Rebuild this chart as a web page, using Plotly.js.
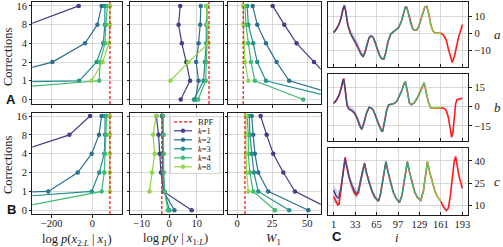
<!DOCTYPE html>
<html><head><meta charset="utf-8">
<script src="https://cdn.plot.ly/plotly-3.0.1.min.js"></script>
<style>html,body{margin:0;padding:0;background:#fff}#chart{width:503px;height:247px}</style>
</head><body><div id="chart"></div>
<script>
// ---------------- DATA ----------------
const correctionTicks = ['0', '1', '2', '4', '8', '16'];
const kNames = ['k=1', 'k=2', 'k=3', 'k=4', 'k=8'];
const kColors = ['#423f85', '#2d6f8e', '#22908d', '#3dbb74', '#8fd744'];

// values per k (rows) at corrections 0,1,2,4,8,16 (columns)
const rowA_logpx = [
  [-3000, -2000, -1200, -700, -315, -67],
  [-2500, -550, -197, -36, 25, 46],
  [-5000, -65, 21, 54, 62, 62],
  [-1150, 34, 38, 62, 67, 74],
  [null, -3, 51, 82, 87, 87]
];
const rowA_logpy = [
  [4.2, 7.6, 6.2, 4.6, 3.4, 4.0],
  [9.5, 10.7, 9.8, 10.7, 11.3, 11.5],
  [9.0, 12.5, 13.0, 13.5, 13.5, 13.8],
  [10.5, 13.3, 13.5, 13.8, 13.8, 13.5],
  [null, 0.4, 7.0, 14.3, 13.9, 13.7]
];
const rowA_w1 = [
  [80, 67.6, 54.8, 42.4, 33.6, 25.3],
  [82.6, 37.1, 28.1, 20.5, 14.3, 11.0],
  [75, 20.5, 14.3, 11.4, 7.9, 7.1],
  [47.1, 12.6, 9.8, 7.9, 6.2, 5.5],
  [null, 7.9, 5.5, 4.8, 4.3, 4.3]
];
const rowB_logpx = [
  [-1500, -1000, -700, -394, -113, -11],
  [-3000, -217, -72, -3, 33, 46],
  [-1270, -3, 34, 59, 62.6, 62.6],
  [-432, 46, 59, 62.6, 69, 71],
  [null, 87, 87, 87, 87, 87]
];
const rowB_logpy = [
  [8.2, -2.1, -3.0, -3.5, -3.9, -4.7],
  [1.9, -2.1, -2.4, -2.4, -2.4, -2.7],
  [0.0, -1.7, -2.2, -2.2, -2.3, -2.4],
  [-0.5, -1.7, -2.0, -2.0, -2.0, -2.2],
  [null, -7.2, -6.3, -5.3, -5.9, -4.8]
];
const rowB_w1 = [
  [68, 41.2, 32.9, 25.7, 21.0, 16.7],
  [50.7, 22.1, 15.0, 12.6, 11.4, 10.3],
  [37.1, 15.0, 11.9, 10.3, 9.0, 8.6],
  [26.9, 11.4, 9.0, 7.9, 7.9, 7.1],
  [null, 7.9, 6.7, 6.2, 6.2, 6.2]
];
// BPF reference values [log p(x2:L|x1), log p(y|x1:L), W1]
const bpfRowA = [87, 14.5, 4.3];
const bpfRowB = [87, -2.7, 5.5];

// Panel C: time index and series
const iA = [1,5,9,12,15,17,19,22,26,30,34,38,42,45,48,51,54,57,60,63,66,70,73,76,79,82,86,90,94,98,102,105,108,110,113,116,119,122,125,128,131,134,137,140,143,146,149,152,156,161,165,169,172,175,178,181,184,187,190,193];
const truthA = [0.5,2.5,5.5,9,14.5,16.5,13,5,0,-3,-5.5,-9,-12.5,-13.7,-11,-6,-2.5,-1.5,-2.5,-5.5,-9.5,-13.5,-15,-15.2,-11,-5,-0.5,1,2,3.5,7,11.5,15.5,15.5,11,5.5,2.5,1.8,2,4,7.5,12,15.5,16,11.5,5,1.5,0.3,0,0,-1,-4,-9,-14,-17.3,-14,-8,-3,1,5];
const bandA_i = [22,26,30,34,38,42,45,48,51,54];
const bandA_lo = [4,-1,-4,-6.5,-10,-13,-14.2,-11.5,-6.5,-3];
const bandA_hi = [7,2,0,-2.5,-6,-10,-11.5,-9,-4.5,-1.5];

const iB = [1,5,9,12,15,16,18,21,24,28,32,36,40,43,46,50,54,57,60,64,68,72,74,77,80,83,87,91,95,99,103,106,108,111,114,117,121,125,129,133,136,139,142,146,150,155,161,165,169,172,175,177,179,181,183,185,188,191,193];
const truthB = [2.7,5,9,14,21,21.4,14,1,-2,-3,-5,-9,-15,-17.7,-13,-5,-0.5,-1,-2.5,-8,-14,-18.5,-19.5,-12,-3,1.3,2,2.5,4,8,13,18,19.5,12,3,1.5,3,6,10,15,18.8,12,4,-1,-1,-0.5,-0.5,-1,-3,-8,-17,-24,-20,-8,2,5.5,6,6.2,6.5];
const bandB_i = [21,24,28,32,36,40,43,46,50];
const bandB_lo = [0,-3,-4,-6.5,-10.5,-16,-18.5,-14,-6];
const bandB_hi = [3,1,0,-2,-6,-12,-15.5,-11,-3.5];

const iC = [1,4,7,9,12,15,18,21,24,28,32,35,38,42,45,47,50,54,58,62,66,68,71,75,79,82,86,90,94,99,103,107,111,114,118,122,126,131,135,138,141,144,148,152,156,161,165,169,172,175,178,181,183,185,188,191,193];
const truthC = [16,13,10.5,11,20,32,42.5,36,29,23,18.5,17,19,28,35,38.5,32,25,20,16,13.5,13,18,29,39.5,33,25,19,15,12,17,29,39.5,33,25,19,15.5,13.4,20,30,39.5,33,26,20,16,12.9,9,6.7,8,16,28,40,43,37,30,25,21.6];
const meanC_head = [20.5,17,15,16,22,32,41,35,29,24,20,18,20,29,35,38,32,25,20,16,13.8,13.2];
const bandC_i = [1,4,7,9,12,15,18,21,24,28,32,35,38,42,45,47,50,54,58,62,66,68];
const bandC_lo = [12,11,10.5,11.5,18,29,38.5,32,26,20,16,15,17,25,32,35,30,23,18,14.5,12.5,12.5];
const bandC_hi = [24,22,20,21,25,34,43,37,32,27,23,21,24,33,38,40.5,34,27,22,18,15,14];
const iTicks = [1,33,65,97,129,161,193];
const lastObserved = 161;

// ---------------- HELPERS (layout only) ----------------
const W = 503, H = 247;
const px = v => v / W;
const py = v => 1 - v / H;
const SERIF = 'Liberation Serif, DejaVu Serif, serif';
const FRAME = '#1e1e1e';
const GRID = '#cfcfcf';

const viridisStops = ['#440154','#482475','#414487','#355f8d','#2a788e','#21918c','#22a884','#44bf70','#7ad151','#bddf26','#fde725'];
function hex2rgb(h){return [parseInt(h.slice(1,3),16),parseInt(h.slice(3,5),16),parseInt(h.slice(5,7),16)];}
function viridis(t){
  t = Math.max(0, Math.min(1, t));
  const s = t * (viridisStops.length - 1);
  const k = Math.min(Math.floor(s), viridisStops.length - 2);
  const f = s - k;
  const a = hex2rgb(viridisStops[k]), b = hex2rgb(viridisStops[k+1]);
  const c = a.map((v, j) => Math.round(v + (b[j] - v) * f));
  return 'rgb(' + c.join(',') + ')';
}

const traces = [];
const shapes = [];
const annotations = [];
const layout = {
  width: W, height: H, margin: {l:0, r:0, t:0, b:0},
  paper_bgcolor: '#fff', plot_bgcolor: '#fff',
  showlegend: false,
  font: {family: SERIF, size: 10, color: '#1a1a1a'}
};

const colDom = [[32.3,121.5],[130,223],[228,320.7]];
const rowDom = [[2,104],[113,214]];
const yRanges = [[-0.24,5.21],[-0.2,5.16]];
const xRanges = [[-296,144],[-14.3,19.6],[-6.6,59.6]];
const xTicks = [[-200,0],[-10,0,10],[0,25,50]];
const rowData = [[rowA_logpx, rowA_logpy, rowA_w1],[rowB_logpx, rowB_logpy, rowB_w1]];
const bpfRows = [bpfRowA, bpfRowB];
const yIdx = correctionTicks.map((_, j) => j);

function axBase(){
  return {showline:true, mirror:true, linecolor:FRAME, linewidth:1.3, showgrid:true, gridcolor:GRID, gridwidth:0.8, zeroline:false,
          ticks:'outside', ticklen:2.5, tickwidth:1, tickcolor:FRAME, tickfont:{family:SERIF, size:10.5, color:'#1a1a1a'}};
}

let n = 1;
for (let r = 0; r < 2; r++) {
  for (let c = 0; c < 3; c++) {
    const xa = 'xaxis' + (n === 1 ? '' : n), ya = 'yaxis' + (n === 1 ? '' : n);
    const xr = 'x' + (n === 1 ? '' : n), yr = 'y' + (n === 1 ? '' : n);
    layout[xa] = Object.assign(axBase(), {domain:[px(colDom[c][0]), px(colDom[c][1])], range:xRanges[c], tickvals:xTicks[c],
      showticklabels: r === 1, anchor: yr, ticklabelstandoff: -3});
    layout[ya] = Object.assign(axBase(), {domain:[py(rowDom[r][1]), py(rowDom[r][0])], range:yRanges[r], tickvals:yIdx,
      ticktext: correctionTicks, showticklabels: c === 0, anchor: xr, ticklen:2});
    // BPF line
    shapes.push({type:'line', xref:xr, yref:yr + ' domain', x0:bpfRows[r][c], x1:bpfRows[r][c], y0:0, y1:1,
      line:{color:'#ff1a1a', width:1.3, dash:'3px,2px'}, layer:'above'});
    const series = rowData[r][c];
    for (let k = 0; k < series.length; k++) {
      traces.push({type:'scatter', mode:'lines+markers', x:series[k], y:yIdx, xaxis:xr, yaxis:yr,
        line:{color:kColors[k], width:1.2}, marker:{color:kColors[k], size:4.5}, cliponaxis:true, connectgaps:false,
        hoverinfo:'skip'});
    }
    n++;
  }
}

// Panel C
const cTop = [[2,67],[74,141],[148,215]];
const cRanges = [[-19.9,18.5],[-26.8,25.5],[3.7,48.7]];
const cTicks = [[-10,0,10],[-15,0,15],[10,25,40]];
const cI = [iA, iB, iC];
const cTruth = [truthA, truthB, truthC];
const cBand = [[bandA_i, bandA_lo, bandA_hi],[bandB_i, bandB_lo, bandB_hi],[bandC_i, bandC_lo, bandC_hi]];
const cLetters = ['a','b','c'];
for (let p = 0; p < 3; p++) {
  const xa = 'xaxis' + n, ya = 'yaxis' + n, xr = 'x' + n, yr = 'y' + n;
  layout[xa] = Object.assign(axBase(), {domain:[px(328), px(468)], range:[-7.5, 201.5], tickvals:iTicks,
    showticklabels: p === 2, anchor: yr, ticks:'inside', ticklen:3, ticklabelstandoff: -1});
  layout[ya] = Object.assign(axBase(), {domain:[py(cTop[p][1]), py(cTop[p][0])], range:cRanges[p], tickvals:cTicks[p],
    side:'right', anchor: xr, ticklen:3});
  // sample spread band
  const b = cBand[p];
  traces.push({type:'scatter', mode:'lines', x:b[0], y:b[1], xaxis:xr, yaxis:yr, line:{width:0, color:'rgba(0,0,0,0)'}, hoverinfo:'skip'});
  traces.push({type:'scatter', mode:'lines', x:b[0], y:b[2], xaxis:xr, yaxis:yr, line:{width:0, color:'rgba(0,0,0,0)'},
    fill:'tonexty', fillcolor:'rgba(110,115,200,0.28)', hoverinfo:'skip'});
  // ground truth
  traces.push({type:'scatter', mode:'lines', x:cI[p], y:cTruth[p], xaxis:xr, yaxis:yr, line:{color:'#ff1a1a', width:1.6}, hoverinfo:'skip'});
  // posterior mean, coloured along i (observed part only)
  const xs = cI[p], ys = cTruth[p].map((v, j) => (p === 2 && j < meanC_head.length) ? meanC_head[j] : v);
  for (let j = 0; j < xs.length - 1; j++) {
    if (xs[j + 1] > lastObserved) break;
    const t = 0.15 + 0.72 * (((xs[j] + xs[j+1]) / 2 - 1) / (lastObserved - 1));
    traces.push({type:'scatter', mode:'lines', x:[xs[j], xs[j+1]], y:[ys[j], ys[j+1]], xaxis:xr, yaxis:yr,
      line:{color:viridis(t), width:1.4}, hoverinfo:'skip'});
  }
  annotations.push({xref:'paper', yref:'paper', x:px(497), y:py((cTop[p][0]+cTop[p][1])/2), text:'<i>'+cLetters[p]+'</i>',
    showarrow:false, font:{family:SERIF, size:13}, xanchor:'center', yanchor:'middle'});
  n++;
}

// titles and panel labels
const ann = (x, y, text, opts) => annotations.push(Object.assign({xref:'paper', yref:'paper', x:px(x), y:py(y), text,
  showarrow:false, xanchor:'center', yanchor:'middle', font:{family:SERIF, size:12.5, color:'#1a1a1a'}}, opts || {}));
ann(8, 57, 'Corrections', {textangle:-90});
ann(8, 165, 'Corrections', {textangle:-90});
ann(77, 239.5, 'log <i>p</i>(<i>x</i><sub>2:<i>L</i></sub> | <i>x</i><sub>1</sub>)');
ann(175, 238.5, 'log <i>p</i>(<i>y</i> | <i>x</i><sub>1:<i>L</i></sub>)');
ann(273, 238.5, '<i>W</i><sub>1</sub>');
ann(397, 238, '<i>i</i>');
const bold = {font:{family:'Liberation Sans, DejaVu Sans, sans-serif', size:13, color:'#111'}};
ann(11, 99, '<b>A</b>', bold);
ann(11, 209, '<b>B</b>', bold);
ann(337, 236, '<b>C</b>', bold);

// custom legend box in row B, middle panel
const legNames = ['BPF'].concat(kNames.map(s => '<i>k</i>=' + s.split('=')[1]));
const legColors = ['#ff1a1a'].concat(kColors);
shapes.push({type:'rect', xref:'paper', yref:'paper', x0:px(170.5), x1:px(220), y0:py(173.5), y1:py(116.5),
  fillcolor:'rgba(255,255,255,0.95)', line:{color:'#cccccc', width:0.8}, layer:'above'});
legNames.forEach((name, j) => {
  const yy = 121.8 + 9.0 * j;
  shapes.push({type:'line', xref:'paper', yref:'paper', x0:px(174), x1:px(192), y0:py(yy), y1:py(yy),
    line:{color:legColors[j], width:j === 0 ? 1.3 : 1.2, dash: j === 0 ? '3px,2px' : 'solid'}, layer:'above'});
  if (j > 0) shapes.push({type:'circle', xref:'paper', yref:'paper', x0:px(181), x1:px(185), y0:py(yy+2), y1:py(yy-2),
    fillcolor:legColors[j], line:{color:legColors[j], width:0.5}, layer:'above'});
  annotations.push({xref:'paper', yref:'paper', x:px(196), y:py(yy), text:name, showarrow:false, xanchor:'left', yanchor:'middle',
    font:{family:SERIF, size:8.5, color:'#1a1a1a'}});
});

layout.shapes = shapes;
layout.annotations = annotations;
Plotly.newPlot('chart', traces, layout, {staticPlot:true, displayModeBar:false});
</script></body></html>
